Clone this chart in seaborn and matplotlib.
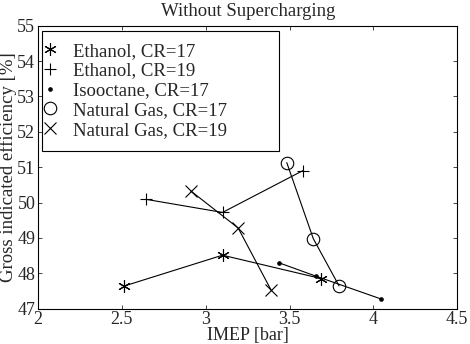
import numpy as np
import pandas as pd
import seaborn as sns
from matplotlib import pyplot as plt
from matplotlib.lines import Line2D
from matplotlib.patches import Rectangle

# dane
eth17_imep = [2.515, 3.10, 3.687]
eth17_eff = [47.64, 48.51, 47.85]

eth19_imep = [2.644, 3.10, 3.578]
eth19_eff = [50.09, 49.72, 50.90]

iso17_imep = [3.434, 3.655, 4.046]
iso17_eff = [48.30, 47.92, 47.27]

ng17_imep = [3.483, 3.641, 3.795]
ng17_eff = [51.13, 48.98, 47.64]

ng19_imep = [2.91, 3.193, 3.39]
ng19_eff = [50.33, 49.28, 47.52]

labels = ['Ethanol, CR=17', 'Ethanol, CR=19', 'Isooctane, CR=17',
          'Natural Gas, CR=17', 'Natural Gas, CR=19']
x_ticks = [2, 2.5, 3, 3.5, 4, 4.5]
x_ticklabels = ['2', '2.5', '3', '3.5', '4', '4.5']
y_ticks = [47, 48, 49, 50, 51, 52, 53, 54, 55]

sns.set_style('ticks')
plt.rcParams['font.family'] = ['Liberation Serif', 'DejaVu Serif']
plt.rcParams['xtick.direction'] = 'in'
plt.rcParams['ytick.direction'] = 'in'

fs_txt = 13.5
fs_tick = 13

series = [
    (eth17_imep, eth17_eff, (6, 2, 0), 9, 'full'),
    (eth19_imep, eth19_eff, '+', 9, 'full'),
    (iso17_imep, iso17_eff, '.', 5, 'full'),
    (ng17_imep, ng17_eff, 'o', 9, 'none'),
    (ng19_imep, ng19_eff, 'x', 9, 'full'),
]

fig = plt.figure(figsize=(4.7, 3.44), dpi=100)
ax = fig.add_axes([0.081, 0.103, 0.892, 0.822])

handles = []
for (xs, ys, mk, ms, fs), lab in zip(series, labels):
    df = pd.DataFrame({'IMEP': xs, 'eff': ys})
    sns.lineplot(data=df, x='IMEP', y='eff', ax=ax, color='black', lw=0.8,
                 marker=mk, markersize=ms, fillstyle=fs, markeredgewidth=0.8,
                 markeredgecolor='black', sort=False, legend=False)
    handles.append(Line2D([], [], ls='none', marker=mk, markersize=ms,
                          fillstyle=fs, color='black', markeredgewidth=0.8,
                          label=lab))

ax.set_xlim(2, 4.5)
ax.set_ylim(47, 55)
ax.set_xticks(x_ticks)
ax.set_xticklabels(x_ticklabels)
ax.set_yticks(y_ticks)
ax.tick_params(axis='x', pad=2)
ax.tick_params(axis='y', pad=2)
ax.tick_params(top=True, right=True, labelsize=fs_tick, length=3, width=0.6)
for sp in ax.spines.values():
    sp.set_linewidth(0.8)
    sp.set_color('black')

ax.set_xlabel('IMEP [bar]', fontsize=13, labelpad=-1)
ax.set_ylabel('Gross indicated efficiency [%]', fontsize=fs_txt, labelpad=0)
ax.set_title('Without Supercharging', fontsize=fs_txt, pad=7)

# ramka legendy rysowana osobno
ax.add_patch(Rectangle((0.0095, 0.557), 0.566, 0.424, transform=ax.transAxes,
                       facecolor='white', edgecolor='black', lw=0.8, zorder=4))
leg = ax.legend(handles=handles, loc='upper left',
                bbox_to_anchor=(0.0173, 0.941), frameon=False,
                borderaxespad=0, fontsize=fs_txt, handlelength=0.5,
                handletextpad=0.95, labelspacing=0.14, borderpad=0)
leg.set_zorder(5)

fig.savefig('out.png', dpi=100)
